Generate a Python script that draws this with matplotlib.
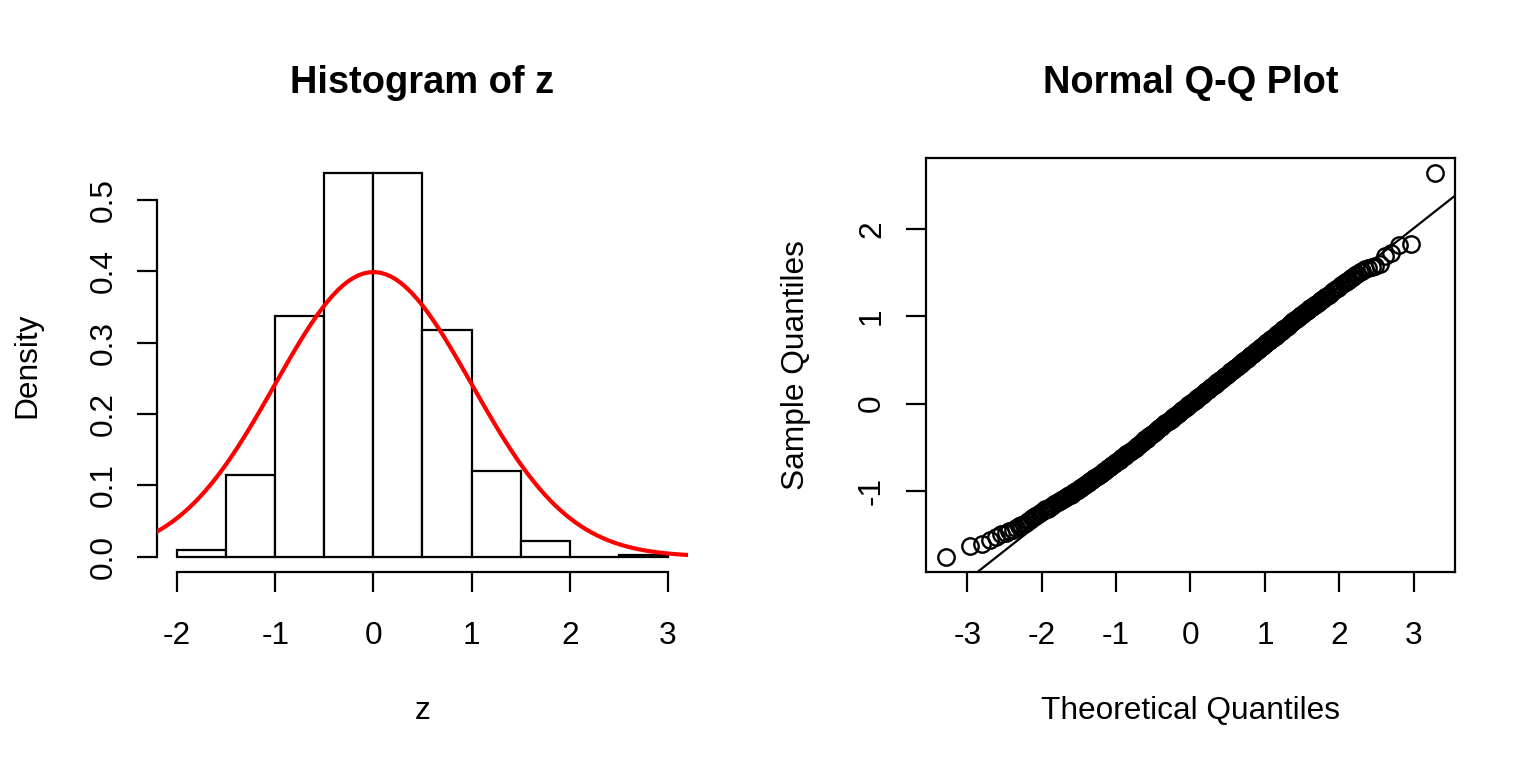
import matplotlib
matplotlib.use("Agg")
import matplotlib.pyplot as plt
from matplotlib.ticker import FormatStrFormatter
import numpy as np
from statistics import NormalDist

plt.rcParams["font.family"] = ["Liberation Sans", "DejaVu Sans"]
plt.rcParams["axes.unicode_minus"] = False

# histogram of z: bin edges and counts (n = 1000)
bin_edges = [-2.0, -1.5, -1.0, -0.5, 0.0, 0.5, 1.0, 1.5, 2.0, 2.5, 3.0]
bin_counts = [5, 57, 169, 269, 269, 159, 60, 11, 0, 1]
n_sample = 1000

# sorted sample values, by order statistic (rank)
qq_ranks = (list(range(1, 21)) + list(range(22, 63, 2)) + list(range(63, 100, 3))
            + list(range(103, 160, 4)) + list(range(165, 298, 6))
            + list(range(305, 698, 8)) + list(range(703, 836, 6))
            + list(range(842, 899, 4)) + list(range(902, 939, 3))
            + list(range(941, 980, 2)) + list(range(981, 1001)))
qq_sample = [
    # ranks 1-20
    -1.75, -1.63, -1.61, -1.565, -1.53, -1.49, -1.475, -1.455, -1.44, -1.42,
    -1.405, -1.39, -1.375, -1.36, -1.34, -1.33, -1.31, -1.30, -1.29, -1.27,
    # ranks 22-62
    -1.25, -1.23, -1.21, -1.20, -1.18, -1.165, -1.15, -1.14, -1.12, -1.11,
    -1.10, -1.09, -1.08, -1.07, -1.06, -1.05, -1.04, -1.03, -1.02, -1.01, -1.004,
    # ranks 63-99
    -0.998, -0.985, -0.97, -0.96, -0.945, -0.93, -0.92, -0.91, -0.90, -0.885,
    -0.875, -0.865, -0.855,
    # ranks 103-159
    -0.84, -0.83, -0.815, -0.80, -0.79, -0.775, -0.765, -0.75, -0.74, -0.73,
    -0.715, -0.705, -0.69, -0.68, -0.67,
    # ranks 165-297
    -0.655, -0.64, -0.625, -0.61, -0.595, -0.58, -0.57, -0.555, -0.54, -0.53,
    -0.515, -0.502, -0.49, -0.475, -0.46, -0.45, -0.435, -0.42, -0.41, -0.40,
    -0.385, -0.375, -0.36,
    # ranks 305-697
    -0.346, -0.33, -0.315, -0.30, -0.283, -0.266, -0.25, -0.236, -0.222, -0.209,
    -0.196, -0.183, -0.17, -0.158, -0.144, -0.13, -0.116, -0.102, -0.088, -0.074,
    -0.06, -0.046, -0.033, -0.019, -0.006, 0.007, 0.021, 0.034, 0.046, 0.059,
    0.072, 0.085, 0.099, 0.113, 0.128, 0.143, 0.158, 0.173, 0.188, 0.202,
    0.216, 0.23, 0.244, 0.258, 0.272, 0.287, 0.302, 0.318, 0.333, 0.347,
    # ranks 703-835
    0.36, 0.372, 0.384, 0.396, 0.408, 0.42, 0.433, 0.445, 0.458, 0.471,
    0.484, 0.498, 0.512, 0.525, 0.54, 0.554, 0.569, 0.583, 0.598, 0.614,
    0.63, 0.646, 0.662,
    # ranks 842-898
    0.681, 0.693, 0.704, 0.716, 0.728, 0.741, 0.754, 0.766, 0.779, 0.793,
    0.806, 0.82, 0.834, 0.849, 0.864,
    # ranks 902-938
    0.88, 0.892, 0.905, 0.917, 0.93, 0.943, 0.957, 0.971, 0.985, 1.001,
    1.014, 1.028, 1.043,
    # ranks 941-979
    1.059, 1.07, 1.081, 1.093, 1.105, 1.117, 1.129, 1.142, 1.156, 1.169,
    1.184, 1.198, 1.215, 1.231, 1.248, 1.266, 1.286, 1.306, 1.328, 1.352,
    # ranks 981-1000
    1.377, 1.391, 1.405, 1.42, 1.436, 1.452, 1.47, 1.488, 1.505, 1.52,
    1.535, 1.55, 1.565, 1.58, 1.60, 1.685, 1.72, 1.82, 1.83, 2.64,
]
# sample quartiles used for the reference line
sample_quartiles = [-0.458, 0.447]

LW = 1.6
FS = 22.8
TICK_LEN = 14.1


def r_limits(lo, hi):
    pad = 0.04 * (hi - lo)
    return lo - pad, hi + pad


def style_ticks(ax):
    ax.tick_params(length=TICK_LEN, width=LW, labelsize=FS, colors="black")
    ax.tick_params(axis="x", pad=20.9)
    ax.tick_params(axis="y", pad=13.9, labelrotation=90)
    plt.setp(ax.get_yticklabels(), va="center")


fig = plt.figure(figsize=(15.36, 7.68), dpi=100)
ax1 = fig.add_axes([0.10247, 0.25521, 0.34518, 0.53971])
ax2 = fig.add_axes([0.60286, 0.25521, 0.34440, 0.53971])

# ---- left: histogram with normal density ----
widths = np.diff(bin_edges)
density = np.array(bin_counts) / (n_sample * widths)
ax1.bar(bin_edges[:-1], density, width=widths, align="edge",
        facecolor="white", edgecolor="black", linewidth=LW, zorder=2)
ax1.set_xlim(r_limits(bin_edges[0], bin_edges[-1]))
ax1.set_ylim(r_limits(0, density.max()))
xs = np.linspace(*ax1.get_xlim(), 101)
ax1.plot(xs, [NormalDist().pdf(v) for v in xs], color="#FF0000", lw=3.0, zorder=3)

for side in ["top", "right"]:
    ax1.spines[side].set_visible(False)
ax1.spines["left"].set_bounds(0, 0.5)
ax1.spines["bottom"].set_bounds(-2, 3)
for side in ["left", "bottom"]:
    ax1.spines[side].set_linewidth(LW)
ax1.set_xticks([-2, -1, 0, 1, 2, 3])
ax1.set_yticks([0.0, 0.1, 0.2, 0.3, 0.4, 0.5])
ax1.yaxis.set_major_formatter(FormatStrFormatter("%.1f"))
style_ticks(ax1)

ax1.set_title("Histogram of z", fontsize=27.4, fontweight="bold", y=1.204, va="top")
ax1.set_xlabel("z", fontsize=FS)
ax1.xaxis.set_label_coords(0.5, -0.2992)
ax1.set_ylabel("Density", fontsize=FS)
ax1.yaxis.set_label_coords(-0.2169, 0.5)

# ---- right: normal Q-Q plot ----
theoretical = [NormalDist().inv_cdf((r - 0.5) / n_sample) for r in qq_ranks]
ax2.plot(theoretical, qq_sample, linestyle="none", marker="o", ms=11.8,
         mfc="none", mec="black", mew=1.7)
t1, t3 = NormalDist().inv_cdf(0.25), NormalDist().inv_cdf(0.75)
slope = (sample_quartiles[1] - sample_quartiles[0]) / (t3 - t1)
intercept = sample_quartiles[0] - slope * t1
ax2.axline((0, intercept), slope=slope, color="black", lw=LW)

ax2.set_xlim(r_limits(min(theoretical), max(theoretical)))
ax2.set_ylim(r_limits(min(qq_sample), max(qq_sample)))
for sp in ax2.spines.values():
    sp.set_linewidth(LW)
ax2.set_xticks([-3, -2, -1, 0, 1, 2, 3])
ax2.set_yticks([-1, 0, 1, 2])
style_ticks(ax2)

ax2.set_title("Normal Q-Q Plot", fontsize=27.4, fontweight="bold", y=1.204, va="top")
ax2.set_xlabel("Theoretical Quantiles", fontsize=FS)
ax2.xaxis.set_label_coords(0.5, -0.2992)
ax2.set_ylabel("Sample Quantiles", fontsize=FS)
ax2.yaxis.set_label_coords(-0.2174, 0.5)

fig.savefig("out.png", dpi=100, facecolor="white")
